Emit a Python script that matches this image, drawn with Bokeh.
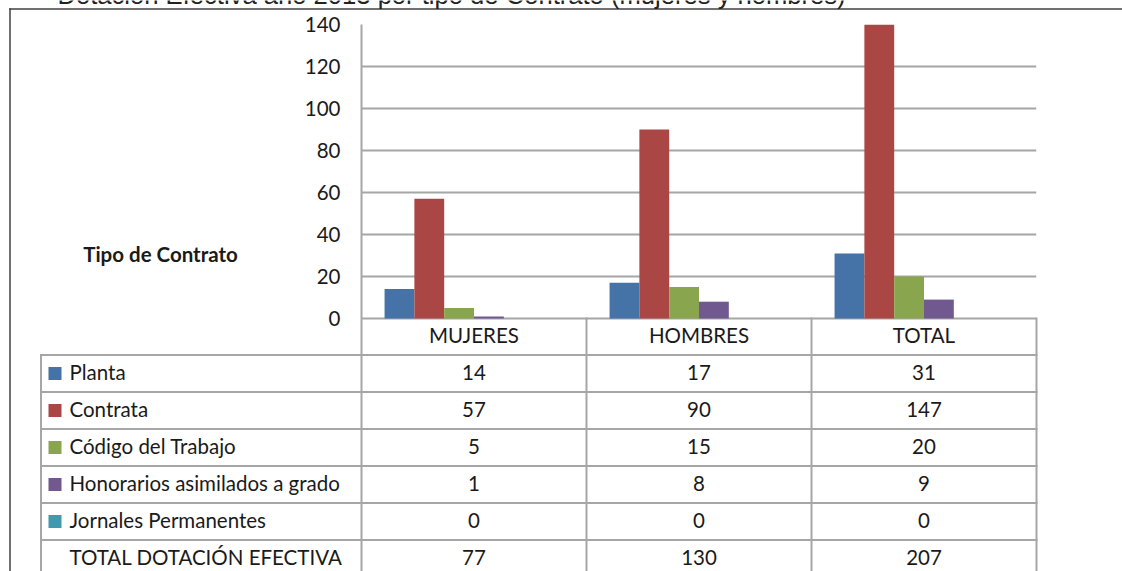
from bokeh.plotting import figure
from bokeh.models import ColumnDataSource, FactorRange, Range1d, FixedTicker
from bokeh.transform import dodge
from bokeh.core.properties import value
from bokeh.embed import file_html
from bokeh.resources import INLINE

# ---------------- data ----------------
title_text = "Dotación Efectiva año 2013  por tipo de Contrato (mujeres y hombres)"
axis_title = "Tipo de Contrato"
categories = ["MUJERES", "HOMBRES", "TOTAL"]
series_names = ["Planta", "Contrata", "Código del Trabajo",
                "Honorarios asimilados a grado", "Jornales Permanentes"]
planta = [14, 17, 31]
contrata = [57, 90, 147]
codigo = [5, 15, 20]
honorarios = [1, 8, 9]
jornales = [0, 0, 0]
total_label = "TOTAL DOTACIÓN EFECTIVA"
total = [77, 130, 207]
y_ticks = [0, 20, 40, 60, 80, 100, 120, 140]
colors = ["#4572A7", "#AA4643", "#89A54E", "#71588F", "#4198AF"]

series_values = [planta, contrata, codigo, honorarios, jornales]
row_names = series_names + [total_label]
row_values = series_values + [total]

# ---------------- layout (page pixels) ----------------
W, H = 1122, 571
FL, FR, FT, FB = 361, 1036, 24, 571
Y_ZERO_PX = 318
K = (Y_ZERO_PX - FT) / y_ticks[-1]
ROW0, ROW_H = 354.5, 37.0
TABLE_LEFT = 40.5
TXT_SHIFT = -1.5

def ydata(py):
    return (Y_ZERO_PX - py) / K

GRID = "#a6a6a6"
TXT = "#1a1a1a"
FONT = "Lato"
FS = "20.5px"

header_c = (Y_ZERO_PX + ROW0) / 2 + TXT_SHIFT
row_c = [ROW0 + (r + 0.5) * ROW_H for r in range(len(row_names))]
row_t = [c + TXT_SHIFT for c in row_c]

# ================= background layer: data table frame, legend keys, titles =================
bg = figure(width=W, height=H, x_range=Range1d(0, W), y_range=Range1d(H, 0),
            output_backend="svg", toolbar_location=None, min_border=0, title=None,
            x_axis_location=None, y_axis_location=None,
            background_fill_color="white", border_fill_color="white",
            outline_line_color=None)
bg.grid.visible = False
bg.styles = {"position": "absolute", "top": "0px", "left": "0px"}

# table horizontal rules
hy = [ROW0 + k * ROW_H for k in range(len(row_names))]
bg.segment(x0=[TABLE_LEFT - 1] * len(hy), y0=hy, x1=[FR + 1] * len(hy), y1=hy,
           line_color=GRID, line_width=2)
# table vertical rules
col_w = (FR - FL) / len(categories)
vx = [FL + j * col_w for j in range(1, len(categories) + 1)]
bg.segment(x0=vx, y0=[Y_ZERO_PX - 1] * len(vx), x1=vx, y1=[H] * len(vx),
           line_color=GRID, line_width=2)
bg.segment(x0=[TABLE_LEFT], y0=[ROW0 - 1], x1=[TABLE_LEFT], y1=[H],
           line_color=GRID, line_width=2)

# outer frame of the chart object
bg.segment(x0=[9.5, 8.75], y0=[7.75, 8.5], x1=[9.5, W], y1=[H, 8.5],
           line_color="#404040", line_width=1.5)

# legend keys + row labels
n_keys = len(series_names)
bg.rect(x=[54.5] * n_keys, y=row_c[:n_keys], width=13, height=13,
        fill_color=colors, line_color=None)
bg.text(x=[69] * len(row_names), y=row_t, text=row_names,
        text_align="left", text_baseline="middle",
        text_font=value(FONT), text_font_size=FS, text_color=TXT)

# axis title
bg.text(x=[160], y=[254.5 + TXT_SHIFT], text=[axis_title], text_align="center", text_baseline="middle",
        text_font=value(FONT), text_font_size=FS, text_font_style="bold", text_color=TXT)

# document title, cut at the top edge as in the source
bg.text(x=[57], y=[-6], text=[title_text], text_align="left", text_baseline="middle",
        text_font=value("Liberation Sans"), text_font_size="25.6px", text_color="#222222")

# ================= chart layer =================
p = figure(width=W, height=H,
           x_range=FactorRange(factors=categories, range_padding=0, factor_padding=0),
           y_range=Range1d(ydata(FB), y_ticks[-1]),
           output_backend="svg", toolbar_location=None,
           min_border_left=FL, min_border_right=W - FR,
           min_border_top=FT, min_border_bottom=H - FB,
           background_fill_color=None, border_fill_color=None,
           outline_line_color=None)
p.title.visible = False
p.styles = {"position": "absolute", "top": "0px", "left": "0px"}

p.xaxis.visible = False
p.xgrid.visible = False
yax = p.yaxis[0]
yax.ticker = FixedTicker(ticks=y_ticks)
yax.axis_line_color = GRID
yax.axis_line_width = 2
yax.major_tick_line_color = None
yax.minor_tick_line_color = None
yax.major_tick_out = 0
yax.major_tick_in = 0
yax.major_label_standoff = 21
yax.major_label_text_font = FONT
yax.major_label_text_font_size = FS
yax.major_label_text_color = TXT
p.ygrid.ticker = FixedTicker(ticks=y_ticks)
p.ygrid.grid_line_color = GRID
p.ygrid.grid_line_width = 2

# bars: six slots per category (the total row is an unfilled series in the source)
n_slots = len(row_values)
GROUP = 0.795
BW = GROUP / n_slots
src = ColumnDataSource(dict(cat=categories, **{f"s{i}": v for i, v in enumerate(series_values)}))
for i in range(len(series_values)):
    p.vbar(x=dodge("cat", (i - (n_slots - 1) / 2) * BW, range=p.x_range),
           top=f"s{i}", bottom=0, width=BW, source=src,
           fill_color=colors[i], line_color=None)

# category header row and table values
p.text(x=categories, y=[ydata(header_c)] * len(categories), text=categories,
       text_align="center", text_baseline="middle",
       text_font=value(FONT), text_font_size=FS, text_color=TXT)
for r, vals in enumerate(row_values):
    p.text(x=categories, y=[ydata(row_t[r])] * len(categories), text=[str(v) for v in vals],
           text_align="center", text_baseline="middle",
           text_font=value(FONT), text_font_size=FS, text_color=TXT)

open("out.html", "w").write(file_html([bg, p], INLINE))
